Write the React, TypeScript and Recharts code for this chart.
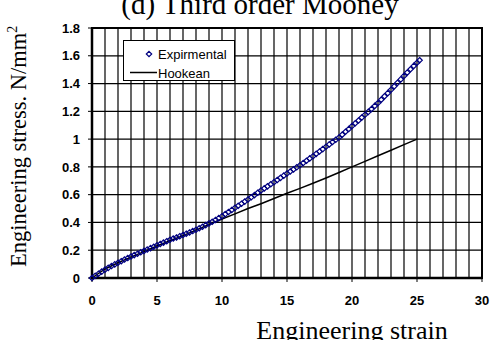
import { ComposedChart, XAxis, YAxis, CartesianGrid, Line, Scatter, ReferenceArea } from "recharts";

// measured tensile test, strain vs engineering stress (N/mm2)
const expStrain = [
  0, 0.25, 0.5, 0.75, 1, 1.25, 1.5, 1.75, 2, 2.25, 2.5, 2.75, 3, 3.25, 3.5, 3.75,
  4, 4.25, 4.5, 4.75, 5, 5.25, 5.5, 5.75, 6, 6.25, 6.5, 6.75, 7, 7.25, 7.5, 7.75,
  8, 8.25, 8.5, 8.75, 9, 9.25, 9.5, 9.75, 10, 10.25, 10.5, 10.75, 11, 11.25, 11.5, 11.75,
  12, 12.25, 12.5, 12.75, 13, 13.25, 13.5, 13.75, 14, 14.25, 14.5, 14.75, 15, 15.25, 15.5, 15.75,
  16, 16.25, 16.5, 16.75, 17, 17.25, 17.5, 17.75, 18, 18.25, 18.5, 18.75, 19, 19.25, 19.5, 19.75,
  20, 20.25, 20.5, 20.75, 21, 21.25, 21.5, 21.75, 22, 22.25, 22.5, 22.75, 23, 23.25, 23.5, 23.75,
  24, 24.25, 24.5, 24.75, 25, 25.2,
];
const expStress = [
  0, 0.016, 0.031, 0.046, 0.06, 0.073, 0.086, 0.098, 0.11, 0.121, 0.133, 0.144, 0.155, 0.165, 0.175, 0.185,
  0.195, 0.205, 0.215, 0.225, 0.235, 0.245, 0.255, 0.265, 0.275, 0.284, 0.292, 0.301, 0.31, 0.319, 0.328, 0.338,
  0.347, 0.358, 0.369, 0.381, 0.393, 0.405, 0.418, 0.431, 0.445, 0.46, 0.475, 0.49, 0.505, 0.52, 0.535, 0.55,
  0.565, 0.581, 0.597, 0.614, 0.63, 0.645, 0.66, 0.675, 0.69, 0.706, 0.721, 0.737, 0.752, 0.767, 0.782, 0.797,
  0.812, 0.828, 0.844, 0.861, 0.877, 0.894, 0.911, 0.928, 0.945, 0.962, 0.979, 0.995, 1.012, 1.032, 1.053, 1.073,
  1.094, 1.114, 1.134, 1.155, 1.175, 1.196, 1.217, 1.239, 1.26, 1.284, 1.308, 1.331, 1.355, 1.38, 1.405, 1.43,
  1.455, 1.479, 1.503, 1.527, 1.55, 1.568,
];

// Hookean fit
const hookeanStrain = [0, 1, 2, 3, 4, 5, 6, 7, 8, 9, 10, 11, 12, 13, 14, 15, 16, 17, 18, 19, 20, 21, 22, 23, 24, 25];
const hookeanStress = [
  0, 0.065, 0.11, 0.15, 0.19, 0.23, 0.268, 0.305, 0.345, 0.385, 0.425, 0.462, 0.5,
  0.535, 0.572, 0.61, 0.645, 0.682, 0.72, 0.76, 0.8, 0.84, 0.88, 0.92, 0.96, 1.0,
];

const strainTicks = [0, 5, 10, 15, 20, 25, 30];
const STRAIN_MAX = 30;
const stressTicks = [0, 0.2, 0.4, 0.6, 0.8, 1, 1.2, 1.4, 1.6, 1.8];

const experimental = expStrain.map((strain, i) => ({ strain, stress: expStress[i] }));
const hookean = hookeanStrain.map((strain, i) => ({ strain, stress: hookeanStress[i] }));

const NAVY = "#000080";
const SANS = "'Liberation Sans', Arial, sans-serif";
const SERIF = "'Liberation Serif', 'Times New Roman', serif";

const tickStyle = { fill: "#000", fontSize: 13, fontWeight: "bold" as const, fontFamily: SANS };

// one vertical grid line per unit of strain
function unitGrid({ offset }: any) {
  const lines: number[] = [];
  for (let s = 0; s <= STRAIN_MAX; s++) {
    lines.push(offset.left + (s / STRAIN_MAX) * offset.width);
  }
  return lines;
}

function Diamond(props: any) {
  const { cx, cy } = props;
  const r = 2.7;
  return (
    <polygon
      points={`${cx},${cy - r} ${cx + r},${cy} ${cx},${cy + r} ${cx - r},${cy}`}
      fill="none"
      stroke={NAVY}
      strokeWidth={1.2}
    />
  );
}

export default function App() {
  return (
    <div style={{ position: "absolute", left: 0, top: 0, width: 504, height: 340, overflow: "hidden", background: "#fff" }}>
      <ComposedChart width={504} height={340} margin={{ top: 28, right: 22, bottom: 32, left: 0 }}>
        <XAxis
          type="number"
          dataKey="strain"
          domain={[0, STRAIN_MAX]}
          ticks={strainTicks}
          interval={0}
          height={30}
          tick={tickStyle}
          tickSize={4}
          tickMargin={14}
          axisLine={{ stroke: "#000", strokeWidth: 2.5 }}
          tickLine={{ stroke: "#000" }}
        />
        <YAxis
          type="number"
          domain={[0, 1.8]}
          ticks={stressTicks}
          interval={0}
          width={92}
          tick={tickStyle}
          tickSize={4}
          tickMargin={8}
          axisLine={{ stroke: "#000", strokeWidth: 2.5 }}
          tickLine={{ stroke: "#000" }}
        />
        <CartesianGrid stroke="#000" strokeOpacity={1} strokeWidth={1.2} verticalCoordinatesGenerator={unitGrid} />
        <ReferenceArea
          x1={0}
          x2={STRAIN_MAX}
          y1={0}
          y2={1.8}
          fill="none"
          fillOpacity={0}
          stroke="#000"
          strokeWidth={2}
          strokeOpacity={1}
        />
        <Line
          data={hookean}
          dataKey="stress"
          type="linear"
          stroke="#000"
          strokeWidth={1.5}
          dot={false}
          isAnimationActive={false}
        />
        <Scatter
          data={experimental}
          dataKey="stress"
          shape={Diamond}
          isAnimationActive={false}
        />
      </ComposedChart>

      {/* titles */}
      <svg width={504} height={340} style={{ position: "absolute", left: 0, top: 0, pointerEvents: "none" }}>
        <text x={260} y={14} textAnchor="middle" fontFamily={SERIF} fontSize={29} fill="#000">
          (d) Third order Mooney
        </text>
        <text x={352} y={339} textAnchor="middle" fontFamily={SERIF} fontSize={26} fill="#000">
          Engineering strain
        </text>
        <text transform="translate(26,267) rotate(-90)" fontFamily={SERIF} fontSize={22.5} fill="#000">
          Engineering stress. N/mm
          <tspan dy={-9} fontSize={14}>2</tspan>
        </text>
      </svg>

      {/* legend */}
      <div
        style={{
          position: "absolute",
          left: 123,
          top: 40,
          width: 110,
          height: 39,
          background: "#fff",
          border: "1px solid #000",
          fontFamily: SANS,
          fontSize: 13,
          color: "#000",
        }}
      >
        <div style={{ position: "absolute", left: 6, top: 5, display: "flex", alignItems: "center", height: 16 }}>
          <svg width={28} height={16}>
            <polygon points="19,5.3 21.7,8 19,10.7 16.3,8" fill="none" stroke={NAVY} strokeWidth={1.2} />
          </svg>
          <span>Expirmental</span>
        </div>
        <div style={{ position: "absolute", left: 6, top: 24, display: "flex", alignItems: "center", height: 16 }}>
          <svg width={28} height={16}>
            <line x1={0} y1={7.5} x2={27} y2={7.5} stroke="#000" strokeWidth={1.5} />
          </svg>
          <span>Hookean</span>
        </div>
      </div>
    </div>
  );
}
